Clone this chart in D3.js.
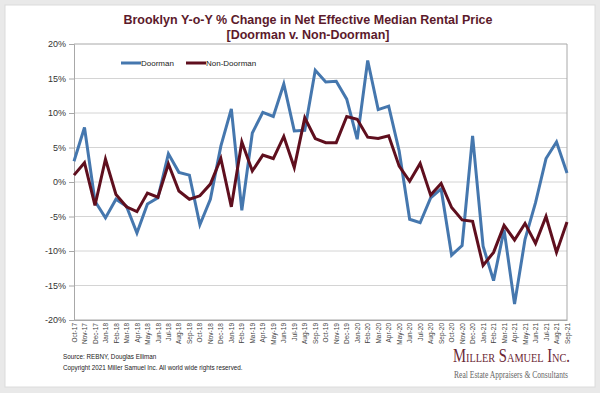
<!DOCTYPE html>
<html><head><meta charset="utf-8">
<script src="https://cdn.jsdelivr.net/npm/d3@7"></script>
<style>
html,body{margin:0;padding:0;background:#e9e9e9;}
svg{display:block;}
</style></head>
<body>
<svg id="c" width="600" height="393"></svg>
<script>
const months = ["Oct-17","Nov-17","Dec-17","Jan-18","Feb-18","Mar-18","Apr-18","May-18","Jun-18","Jul-18","Aug-18","Sep-18","Oct-18","Nov-18","Dec-18","Jan-19","Feb-19","Mar-19","Apr-19","May-19","Jun-19","Jul-19","Aug-19","Sep-19","Oct-19","Nov-19","Dec-19","Jan-20","Feb-20","Mar-20","Apr-20","May-20","Jun-20","Jul-20","Aug-20","Sep-20","Oct-20","Nov-20","Dec-20","Jan-21","Feb-21","Mar-21","Apr-21","May-21","Jun-21","Jul-21","Aug-21","Sep-21"];
const doorman = [3.0,7.9,-2.8,-5.2,-2.5,-3.5,-7.4,-3.2,-2.3,4.1,1.4,1.0,-6.2,-2.5,5.2,10.6,-4.1,7.1,10.1,9.5,14.2,7.4,7.5,16.2,14.5,14.6,12.0,6.2,17.6,10.5,11.0,4.5,-5.4,-5.9,-2.3,-1.0,-10.6,-9.2,6.7,-9.3,-14.3,-6.9,-17.7,-8.3,-3.0,3.4,5.8,1.3];
const nonDoorman = [1.0,2.8,-3.4,3.3,-1.8,-3.6,-4.3,-1.6,-2.2,2.6,-1.3,-2.5,-2.0,-0.3,3.4,-3.6,5.8,1.6,3.9,3.4,6.6,2.1,9.3,6.3,5.7,5.7,9.5,9.1,6.5,6.3,6.7,2.3,0.1,2.7,-1.9,-0.2,-3.7,-5.5,-5.7,-12.1,-10.2,-6.3,-8.4,-6.0,-8.9,-5.0,-10.2,-5.8];
const yTicks = [20,15,10,5,0,-5,-10,-15,-20];
const seriesNames = ["Doorman","Non-Doorman"];
const colors = ["#4577ae","#5f0f1e"];

const svg = d3.select("#c");
svg.append("rect").attr("x",5).attr("y",5).attr("width",590).attr("height",382)
  .attr("fill","#fff").attr("stroke","#dcdcdc");

const L=74, R=567, T=44, B=320;
const x = d3.scalePoint().domain(months).range([L,R]);
const y = d3.scaleLinear().domain([-20,20]).range([B,T]);

const title = svg.append("text").attr("text-anchor","middle").attr("fill","#5c1a2b")
  .attr("font-family","Liberation Sans, Arial, sans-serif").attr("font-weight","bold").attr("font-size",12.5);
title.append("tspan").attr("x",308).attr("y",24).text("Brooklyn Y-o-Y % Change in Net Effective Median Rental Price");
title.append("tspan").attr("x",308).attr("y",39).text("[Doorman v. Non-Doorman]");

svg.append("g").selectAll("line").data(yTicks).join("line")
  .attr("x1",L).attr("x2",R).attr("y1",d=>y(d)).attr("y2",d=>y(d))
  .attr("stroke", d=> d===20||d===-20 ? "#a8a8a8" : "#d4d4d4").attr("stroke-width",1);
svg.append("line").attr("x1",R).attr("x2",R).attr("y1",T).attr("y2",B).attr("stroke","#a8a8a8");

const yAxis = d3.axisLeft(y).tickValues(yTicks).tickFormat(d=>d+"%").tickSize(5).tickPadding(3);
const gy = svg.append("g").attr("transform",`translate(${L},0)`).call(yAxis);
gy.select(".domain").attr("stroke","#a8a8a8");
gy.selectAll(".tick line").attr("stroke","#a8a8a8");
gy.selectAll("text").attr("font-family","Liberation Sans, Arial, sans-serif").attr("font-size",9).attr("fill","#333");

const xAxis = d3.axisBottom(x).tickSize(0).tickPadding(3);
const gx = svg.append("g").attr("transform",`translate(0,${B})`).call(xAxis);
gx.select(".domain").attr("stroke","#a8a8a8");
gx.selectAll("text").attr("font-family","Liberation Sans, Arial, sans-serif").attr("font-size",6.5).attr("fill","#444")
  .attr("text-anchor","end").attr("transform","rotate(-90)").attr("dy","0.32em").attr("x",-3).attr("y",0);

const line = d3.line().x((d,i)=>x(months[i])).y(d=>y(d));
[doorman, nonDoorman].forEach((s,k)=>{
  svg.append("path").datum(s).attr("d",line).attr("fill","none")
    .attr("stroke",colors[k]).attr("stroke-width",3).attr("stroke-linejoin","miter");
});

const lg = [{x:121,tx:141},{x:186,tx:206}];
seriesNames.forEach((n,k)=>{
  svg.append("line").attr("x1",lg[k].x).attr("x2",lg[k].x+20).attr("y1",63).attr("y2",63)
    .attr("stroke",colors[k]).attr("stroke-width",3);
  svg.append("text").attr("x",lg[k].tx).attr("y",66).text(n)
    .attr("font-family","Liberation Sans, Arial, sans-serif").attr("font-size",8).attr("fill","#222");
});

svg.append("text").attr("x",63).attr("y",359).text("Source: REBNY, Douglas Elliman")
  .attr("font-family","Liberation Sans, Arial, sans-serif").attr("font-size",6.3).attr("fill","#222");
svg.append("text").attr("x",63).attr("y",370).text("Copyright 2021 Miller Samuel Inc.  All world wide rights reserved.")
  .attr("font-family","Liberation Sans, Arial, sans-serif").attr("font-size",6.3).attr("fill","#222");
svg.append("text").attr("x",453).attr("y",362).text("Miller Samuel Inc.")
  .attr("font-family","Liberation Serif, Times New Roman, serif").attr("font-size",18.5).attr("font-variant","small-caps")
  .attr("fill","#6a2634").attr("textLength",117).attr("lengthAdjust","spacingAndGlyphs");
svg.append("text").attr("x",454).attr("y",378).text("Real Estate Appraisers & Consultants")
  .attr("font-family","Liberation Serif, Times New Roman, serif").attr("font-size",9.5)
  .attr("fill","#666").attr("textLength",114).attr("lengthAdjust","spacingAndGlyphs");
</script>
</body></html>
